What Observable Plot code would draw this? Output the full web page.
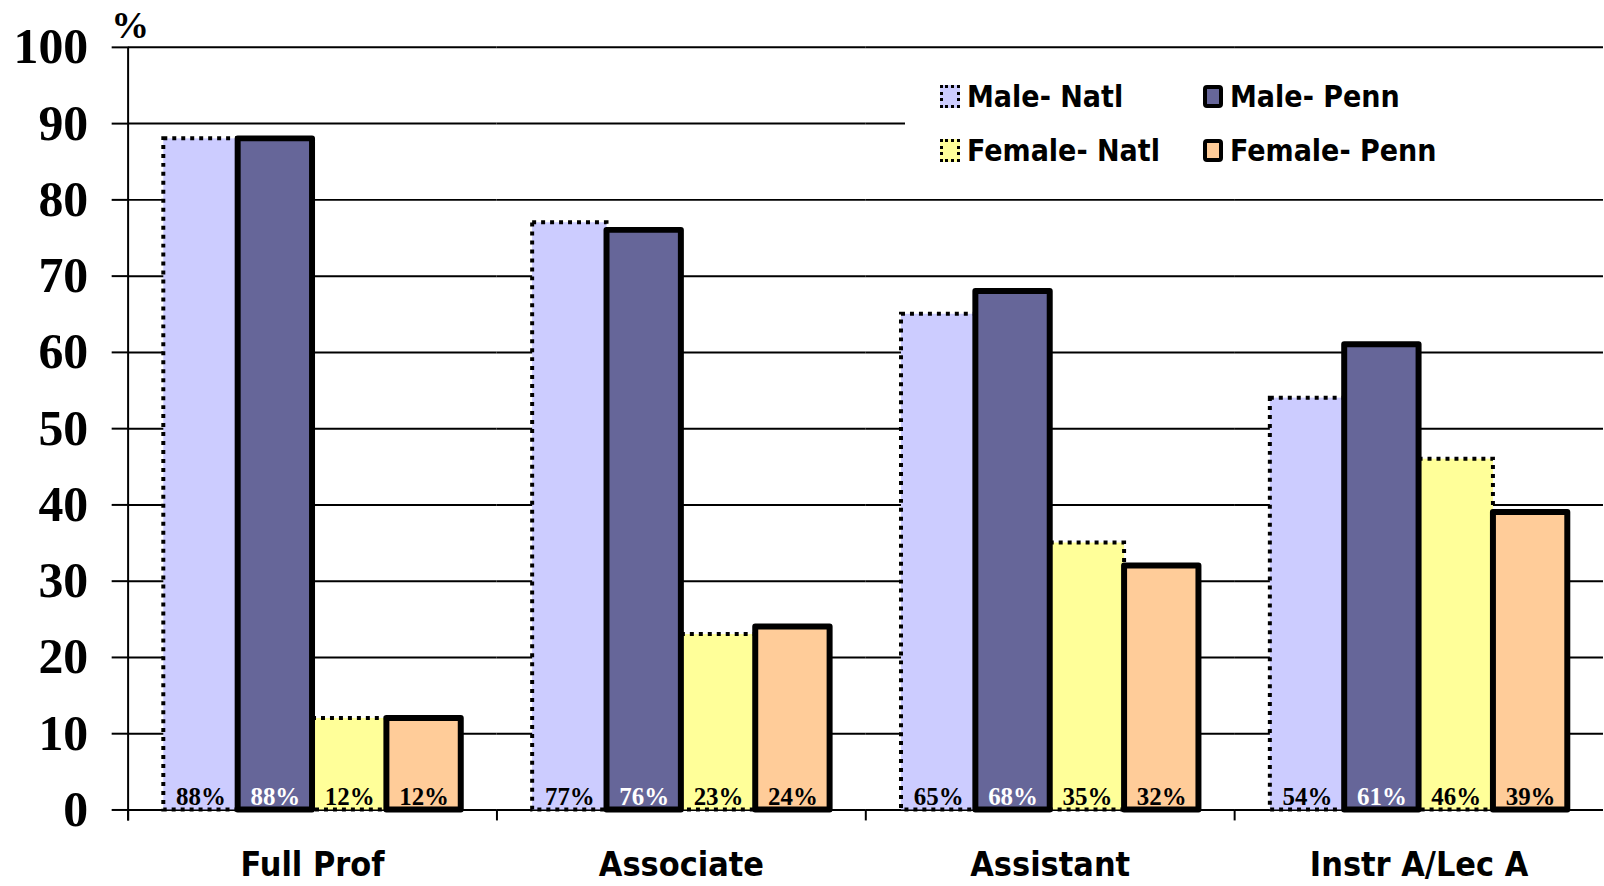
<!DOCTYPE html>
<html><head><meta charset="utf-8">
<script src="https://cdn.jsdelivr.net/npm/d3@7"></script>
<script src="https://cdn.jsdelivr.net/npm/@observablehq/plot@0.6"></script>
<style>
html,body{margin:0;padding:0;overflow:hidden;background:#fff;}
#wrap{position:relative;width:1604px;height:886px;overflow:hidden;}
#legend{position:absolute;left:905px;top:58px;width:699px;height:126px;background:#fff;font-family:"DejaVu Sans Condensed",sans-serif;font-weight:bold;font-size:30px;color:#000;}
.item{position:absolute;display:flex;align-items:center;height:40px;}
.sw{box-sizing:border-box;width:20px;height:23px;margin-right:7px;}
</style></head><body><div id="wrap"><div id="chart"></div><div id="legend"></div></div>
<script>
const categories = ["Full Prof", "Associate", "Assistant", "Instr A/Lec A"];
const series = ["Male- Natl", "Male- Penn", "Female- Natl", "Female- Penn"];
const maleNatl = [88, 77, 65, 54];
const malePenn = [88, 76, 68, 61];
const femaleNatl = [12, 23, 35, 46];
const femalePenn = [12, 24, 32, 39];
const yTicks = [0, 10, 20, 30, 40, 50, 60, 70, 80, 90, 100];
const colors = ["#CCCCFF", "#666699", "#FFFF99", "#FFCC99"];

const seriesValues = [maleNatl, malePenn, femaleNatl, femalePenn];
const rows = [];
categories.forEach((c, ci) => series.forEach((s, si) => rows.push({category: c, series: s, si, value: seriesValues[si][ci]})));
const natl = rows.filter(d => d.si % 2 === 0);
const penn = rows.filter(d => d.si % 2 === 1);

const gap = 0.48;
const serif = "Liberation Serif, Times New Roman, serif";
const narrow = "DejaVu Sans Condensed, sans-serif";

const plot = Plot.plot({
  width: 1609, height: 886,
  marginLeft: 126, marginRight: 0, marginTop: 47, marginBottom: 74,
  style: {color: "black", background: "white"},
  fx: {domain: categories, padding: 0, axis: null},
  x: {domain: [0, series.length + 2 * gap], axis: null},
  y: {domain: [0, 100], axis: null},
  color: {domain: series, range: colors},
  marks: [
    Plot.ruleY(yTicks, {stroke: "black", strokeWidth: 2}),
    Plot.ruleX([0], {y1: 0, y2: 0, insetBottom: -11, stroke: "black", strokeWidth: 2}),
    Plot.ruleX([{c: categories[0]}], {fx: "c", x: () => 0, insetBottom: -11, stroke: "black", strokeWidth: 2}),
    Plot.rectY(natl, {fx: "category", x1: d => gap + d.si, x2: d => gap + d.si + 1, y1: 0, y2: "value", fill: "series",
      stroke: "black", strokeWidth: 4, strokeDasharray: "4,5"}),
    Plot.rectY(penn, {fx: "category", x1: d => gap + d.si, x2: d => gap + d.si + 1, y1: 0, y2: "value", fill: "series",
      stroke: "black", strokeWidth: 6, strokeLinejoin: "round"}),
    Plot.text(rows, {fx: "category", x: d => gap + d.si + 0.5, y: 0, text: d => d.value + "%", dy: -5, lineAnchor: "bottom",
      fill: d => d.series === "Male- Penn" ? "white" : "black", fontSize: 25, fontWeight: "bold", fontFamily: serif}),
    Plot.axisY({ticks: yTicks, tickSize: 16, tickPadding: 24, fontSize: 50, fontWeight: "bold", fontFamily: serif,
      label: null, stroke: "black", strokeWidth: 2, tickFormat: d => d}),
    Plot.axisFx({anchor: "bottom", tickSize: 0, tickPadding: 42, fontSize: 34, fontWeight: "bold", fontFamily: narrow, label: null}),
    Plot.text([{c: categories[0]}], {fx: "c", frameAnchor: "top-left", text: () => "%", dx: 2, dy: -22, textAnchor: "middle",
      lineAnchor: "middle", fontSize: 38, fontWeight: "bold", fontFamily: serif})
  ]
});
document.getElementById("chart").appendChild(plot);

const legend = d3.select("#legend");
series.forEach((s, si) => {
  const col = si % 2, row = Math.floor(si / 2);
  const item = legend.append("div").attr("class", "item")
    .style("left", (col === 0 ? 35 : 298) + "px")
    .style("top", (row === 0 ? 18 : 72) + "px");
  const sw = item.append("div").attr("class", "sw").style("background", colors[si]);
  if (si % 2 === 0) sw.style("border", "3px dotted black");
  else sw.style("border", "4px solid black").style("border-radius", "4px");
  item.append("span").text(s);
});
</script></body></html>
